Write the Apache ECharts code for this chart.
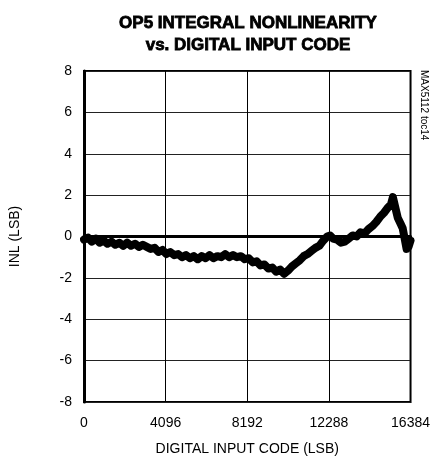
<!DOCTYPE html>
<html><head><meta charset="utf-8">
<script src="https://cdn.jsdelivr.net/npm/echarts@6/dist/echarts.min.js"></script>
<style>html,body{margin:0;padding:0;background:#fff}#c{width:433px;height:464px}</style>
</head><body><div id="c"></div>
<script>
var titleText = "OP5 INTEGRAL NONLINEARITY\nvs. DIGITAL INPUT CODE";
var xAxisName = "DIGITAL INPUT CODE (LSB)";
var yAxisName = "INL (LSB)";
var xTicks = [0, 4096, 8192, 12288, 16384];
var yTicks = [-8, -6, -4, -2, 0, 2, 4, 6, 8];
var codes = [0,197,394,590,787,984,1181,1378,1574,1771,1968,2165,2362,2558,2755,2952,3149,3346,3542,3739,3936,4133,4330,4526,4723,4920,5117,5314,5510,5707,5904,6101,6298,6494,6691,6888,7085,7282,7478,7675,7872,8069,8266,8462,8659,8856,9053,9250,9446,9643,9840,10037,10234,10430,10627,10824,11021,11218,11414,11611,11808,12005,12202,12349,12497,12694,12890,13087,13284,13481,13678,13874,14071,14268,14465,14662,14858,15055,15252,15400,15498,15596,15744,15892,15990,16088,16187,16285,16384];
var inl = [-0.15,-0.05,-0.25,-0.1,-0.3,-0.2,-0.35,-0.25,-0.4,-0.3,-0.45,-0.3,-0.45,-0.35,-0.5,-0.4,-0.5,-0.6,-0.55,-0.75,-0.65,-0.85,-0.75,-0.9,-0.85,-1.0,-0.9,-1.05,-0.95,-1.1,-0.95,-1.05,-0.9,-1.05,-0.95,-1.0,-0.85,-1.0,-0.9,-1.0,-0.95,-1.1,-1.05,-1.25,-1.2,-1.4,-1.35,-1.55,-1.5,-1.7,-1.6,-1.8,-1.65,-1.45,-1.3,-1.15,-0.95,-0.85,-0.7,-0.55,-0.45,-0.2,0.0,0.05,-0.1,-0.15,-0.3,-0.25,-0.1,0.05,0.0,0.2,0.15,0.35,0.5,0.7,0.95,1.15,1.4,1.55,1.9,1.5,0.9,0.6,0.4,-0.1,-0.6,-0.5,-0.2];
var sideNote = "MAX5112 toc14";

var data = codes.map(function(c,i){return [c, inl[i]];});
var font = "'Liberation Sans', Arial, sans-serif";
var chart = echarts.init(document.getElementById('c'));
chart.setOption({
  animation:false,
  backgroundColor:'#fff',
  title:{text:titleText,left:243,textAlign:'center',top:7,
    textStyle:{fontFamily:font,fontWeight:'bold',fontSize:17,lineHeight:22,color:'#000',
      textBorderColor:'#000',textBorderWidth:0.8}},
  grid:{left:82,right:18,top:71,bottom:62,show:true,borderColor:'#000',borderWidth:2,backgroundColor:'transparent'},
  xAxis:{type:'value',min:xTicks[0],max:xTicks[xTicks.length-1],interval:4096,
    name:xAxisName,nameLocation:'middle',nameGap:40,
    nameTextStyle:{fontFamily:font,fontSize:14,color:'#000'},
    axisLine:{lineStyle:{color:'#000',width:3}},axisTick:{show:false},
    axisLabel:{fontFamily:font,fontSize:14,color:'#000',margin:14,formatter:function(v){return String(v);}},
    splitLine:{lineStyle:{color:'#000',width:1}}},
  yAxis:{type:'value',min:yTicks[0],max:yTicks[yTicks.length-1],interval:2,
    name:yAxisName,nameLocation:'middle',nameGap:62,nameRotate:90,
    nameTextStyle:{fontFamily:font,fontSize:14,color:'#000'},
    axisLine:{show:true,lineStyle:{color:'#000',width:3}},axisTick:{show:false},
    axisLabel:{fontFamily:font,fontSize:14,color:'#000',margin:12,formatter:function(v){return String(v);}},
    splitLine:{lineStyle:{color:'#222',width:1}}},
  graphic:[{type:'text',left:419,top:70,rotation:-Math.PI/2,
    style:{text:sideNote,fontFamily:font,fontSize:10,fill:'#000'}}],
  series:[{type:'line',data:data,showSymbol:false,
    lineStyle:{color:'#000',width:8,join:'round',cap:'round'}}]
});
</script></body></html>
